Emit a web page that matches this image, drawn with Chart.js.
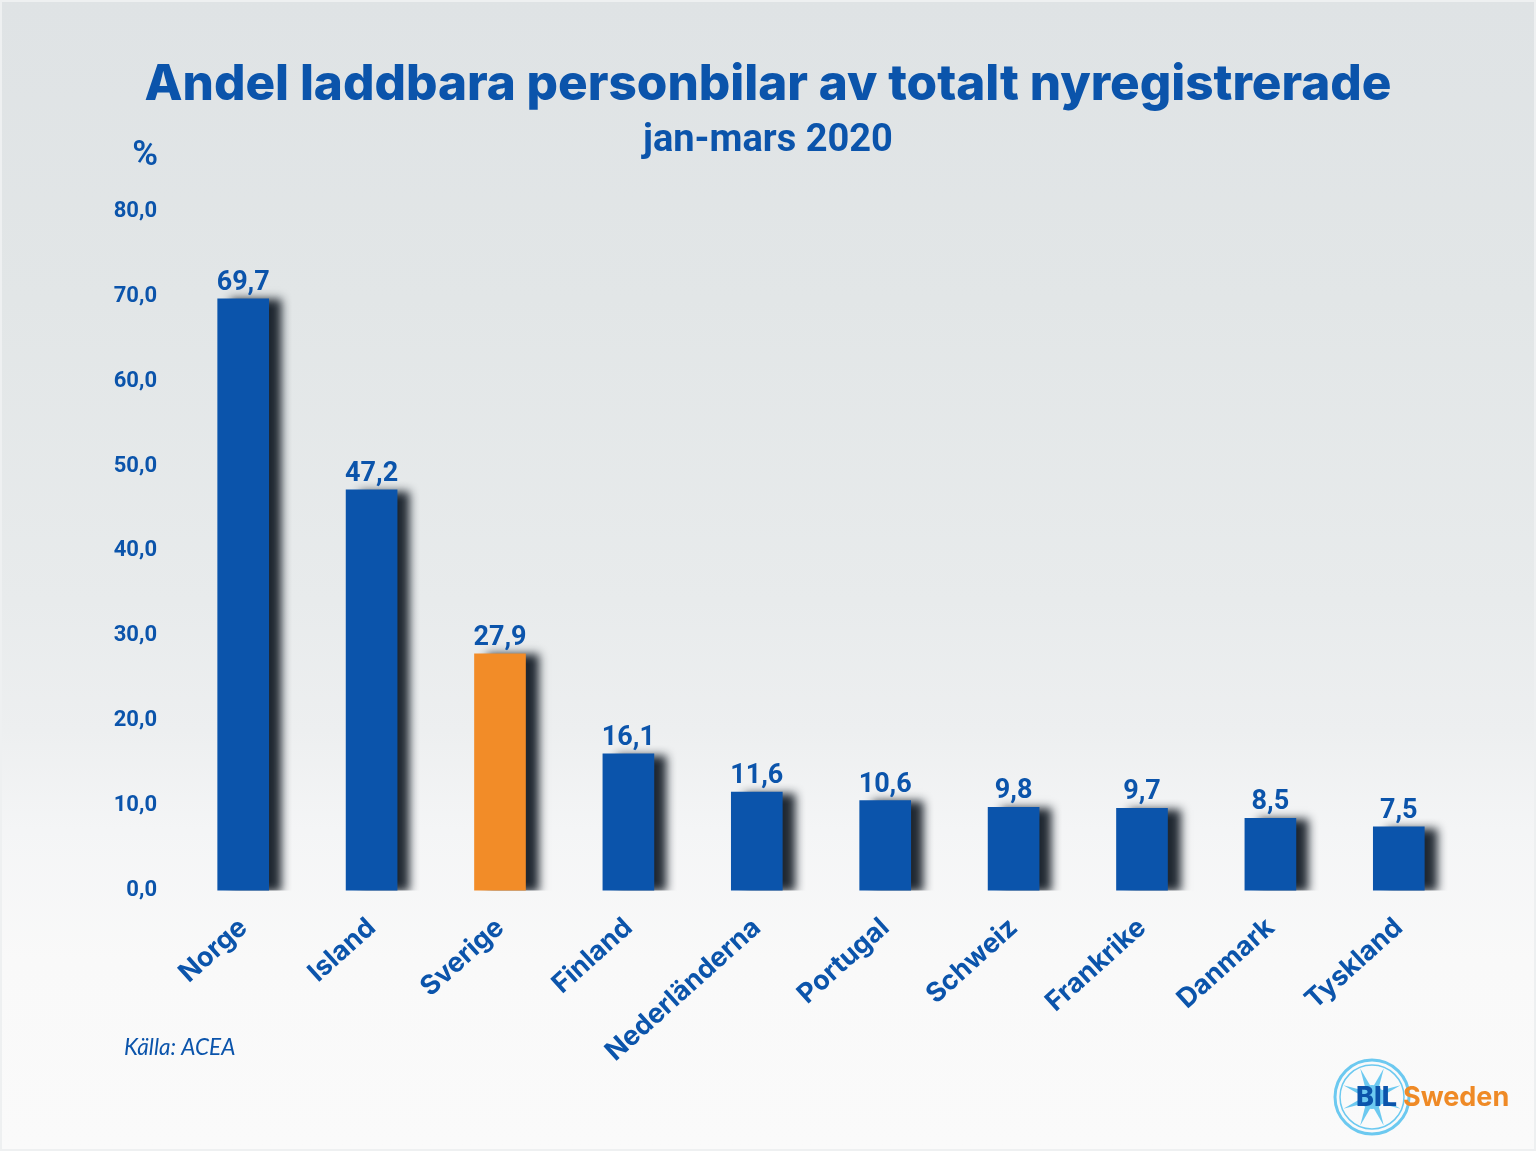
<!DOCTYPE html>
<html lang="sv"><head><meta charset="utf-8">
<style>html,body{margin:0;padding:0;background:#f9f9f9}canvas{display:block}
#w{width:1536px;height:1151px;box-shadow:inset 0 0 0 2px #eef0f1;background:linear-gradient(180deg,#dfe3e5 0,#e2e6e7 300px,#e8ebec 600px,#edeff0 730px,#f4f5f6 830px,#f9f9f9 960px,#fafafa 1151px)}</style>
<script src="https://cdn.jsdelivr.net/npm/chart.js@4"></script></head>
<body><div id="w"><canvas id="c" width="1536" height="1151"></canvas></div>
<script>
const countries=['Norge','Island','Sverige','Finland','Nederländerna','Portugal','Schweiz','Frankrike','Danmark','Tyskland'];
const shares=[69.7,47.2,27.9,16.1,11.6,10.6,9.8,9.7,8.5,7.5];
const barColors=['#0b54ab','#0b54ab','#f28c28','#0b54ab','#0b54ab','#0b54ab','#0b54ab','#0b54ab','#0b54ab','#0b54ab'];
const titleText='Andel laddbara personbilar av totalt nyregistrerade';
const subtitleText='jan-mars 2020';
const unitText='%';
const sourceText='Källa: ACEA';
const BLUE='#0b54ab';
const comma=v=>v.toFixed(1).replace('.',',');

const barShadow={id:'barShadow',
 beforeDatasetDraw(ch){const c=ch.ctx;c.save();c.shadowColor='rgba(20,28,38,0.95)';c.shadowBlur=9;c.shadowOffsetX=13;c.shadowOffsetY=1;},
 afterDatasetDraw(ch){ch.ctx.restore();}};
const extras={id:'extras',afterDraw(ch){
 const c=ch.ctx,m=ch.getDatasetMeta(0);
 c.save();c.fillStyle=BLUE;c.textAlign='center';c.textBaseline='alphabetic';
 c.font='700 27px Roboto';
 m.data.forEach((b,i)=>c.fillText(comma(shares[i]),b.x,b.y-9));
 c.textAlign='right';c.font='600 35px Roboto';c.fillText(unitText,158,165);
 c.textAlign='left';c.font='italic 400 22.5px Lato';c.fillText(sourceText,124,1055);
 // logo
 const x=1372,y=1097,r=37;
 c.lineWidth=3;c.strokeStyle='#6cc9f0';c.beginPath();c.arc(x,y,r,0,7);c.stroke();
 c.lineWidth=1.5;c.beginPath();c.arc(x,y,r-5,0,7);c.stroke();
 c.fillStyle='#6cc9f0';
 for(let i=0;i<8;i++){const a=i*Math.PI/4+Math.PI/8;c.beginPath();
  c.moveTo(x+Math.cos(a)*(r-6),y+Math.sin(a)*(r-6));
  c.lineTo(x+Math.cos(a+.35)*9,y+Math.sin(a+.35)*9);
  c.lineTo(x+Math.cos(a-.35)*9,y+Math.sin(a-.35)*9);c.closePath();c.fill();}
 c.beginPath();c.arc(x,y,12,0,7);c.fill();
 c.font='800 27px Inter';c.textAlign='left';c.fillStyle=BLUE;c.fillText('BIL',1356,1106);
 c.fillStyle='#ef8a26';c.font='700 27px Inter';c.fillText('Sweden',1403,1106);
 c.restore();
}};
new Chart(document.getElementById('c'),{
 type:'bar',
 data:{labels:countries,datasets:[{data:shares,backgroundColor:barColors,barThickness:51,borderWidth:0}]},
 plugins:[barShadow,extras],
 options:{responsive:false,animation:false,devicePixelRatio:1,
  layout:{padding:{left:0,right:0,top:0,bottom:70}},
  plugins:{legend:{display:false},tooltip:{enabled:false},
   title:{display:true,text:titleText,color:BLUE,font:{family:'Inter',size:49.4,weight:'800'},padding:{top:55.5,bottom:4}},
   subtitle:{display:true,text:subtitleText,color:BLUE,font:{family:'Roboto',size:38,weight:'700'},padding:{top:0,bottom:47}}},
  scales:{
   x:{grid:{display:false},border:{display:false},
      ticks:{color:BLUE,font:{family:'Inter',size:27,weight:'700'},minRotation:42,maxRotation:42,padding:13,autoSkip:false}},
   y:{min:0,max:80,grid:{display:false},border:{display:false},afterFit(s){s.width=179;},
      ticks:{stepSize:10,color:BLUE,padding:14,font:{family:'Roboto',size:22,weight:'700'},callback:v=>comma(v)}},
   rightGap:{position:'right',display:true,grid:{display:false},border:{display:false},ticks:{display:false},afterFit(s){s.width=73;}}
  }}
});
</script></body></html>
